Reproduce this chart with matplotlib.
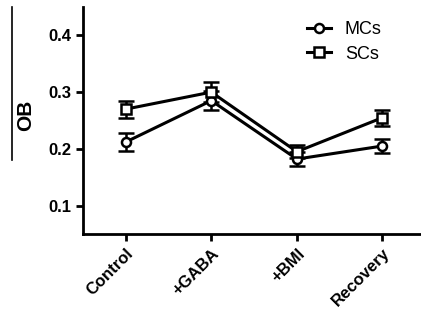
import matplotlib
matplotlib.use('Agg')
import matplotlib.pyplot as plt
from matplotlib.lines import Line2D

plt.rcParams['font.family'] = ['Liberation Sans', 'DejaVu Sans']

# data
conditions = ['Control', '+GABA', '+BMI', 'Recovery']
mcs = [0.212, 0.285, 0.182, 0.205]
mcs_err = [0.016, 0.017, 0.012, 0.013]
scs = [0.270, 0.300, 0.195, 0.255]
scs_err = [0.015, 0.017, 0.011, 0.014]

fig = plt.figure(figsize=(4.21, 3.2), dpi=100)
ax = fig.add_axes([0.197, 0.269, 0.803, 0.709])
x = list(range(len(conditions)))

style = dict(color='black', lw=2.2, ms=6.5, mfc='white', mec='black', mew=1.8,
             capsize=5.5, capthick=1.8, elinewidth=1.8)
ax.errorbar(x, mcs, yerr=mcs_err, marker='o', label='MCs', **style)
ax.errorbar(x, scs, yerr=scs_err, marker='s', label='SCs', **style)

ax.set_xlim(-0.5, 3.45)
ax.set_ylim(0.05, 0.45)
ax.set_yticks([0.1, 0.2, 0.3, 0.4])
ax.set_xticks(x)
ax.set_xticklabels(conditions, rotation=45, ha='right', rotation_mode='anchor',
                   fontsize=12, fontweight='bold')
for lab in ax.get_yticklabels():
    lab.set_fontsize(12)
    lab.set_fontweight('bold')
for s in ['top', 'right']:
    ax.spines[s].set_visible(False)
for s in ['left', 'bottom']:
    ax.spines[s].set_linewidth(2)
ax.tick_params(width=2, length=5)

handles = [Line2D([], [], color='black', lw=2.2, marker='o', ms=6.5, mfc='white', mew=1.8),
           Line2D([], [], color='black', lw=2.2, marker='s', ms=6.5, mfc='white', mew=1.8)]
ax.legend(handles, ['MCs', 'SCs'], loc='upper left', bbox_to_anchor=(0.663, 0.937),
          frameon=False, fontsize=13, handlelength=1.3, handletextpad=0.8,
          labelspacing=0.4, borderpad=0, borderaxespad=0)

fig.text(0.06, 0.64, 'OB', rotation=90, fontsize=15, fontweight='bold',
         ha='center', va='center')
fig.add_artist(Line2D([0.028, 0.028], [0.5, 0.978], color='black', lw=1.2,
                      transform=fig.transFigure))

plt.savefig('out.png', dpi=100)
